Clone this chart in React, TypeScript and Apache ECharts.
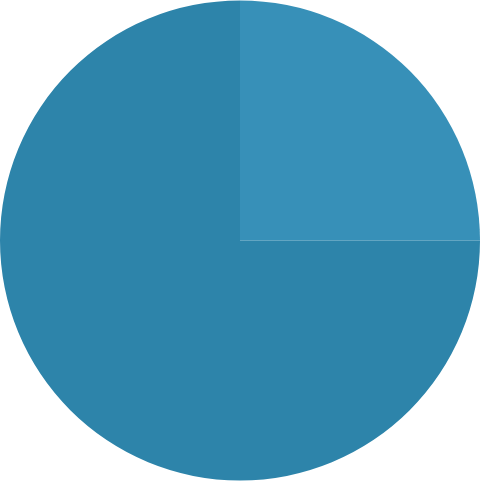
import React, { useEffect, useRef } from 'react';
import * as echarts from 'echarts';

const labels = ['A', 'B'];
const values = [25, 75];
const colors = ['#3790b8', '#2d84aa'];

const App: React.FC = () => {
  const chartRef = useRef<HTMLDivElement>(null);

  useEffect(() => {
    if (!chartRef.current) return;
    const chart = echarts.init(chartRef.current, undefined, { renderer: 'svg' });

    chart.setOption({
      animation: false,
      series: [
        {
          type: 'pie',
          center: ['50%', '50%'],
          radius: ['0%', '100%'],
          startAngle: 90,
          clockwise: true,
          label: { show: false },
          labelLine: { show: false },
          silent: true,
          itemStyle: { borderWidth: 0 },
          data: labels.map((name, i) => ({
            name,
            value: values[i],
            itemStyle: { color: colors[i] }
          }))
        }
      ]
    });

    return () => {
      chart.dispose();
    };
  }, []);

  return (
    <div
      ref={chartRef}
      style={{ position: 'fixed', left: 0, top: 0, width: 480, height: 481 }}
    />
  );
};

export default App;
